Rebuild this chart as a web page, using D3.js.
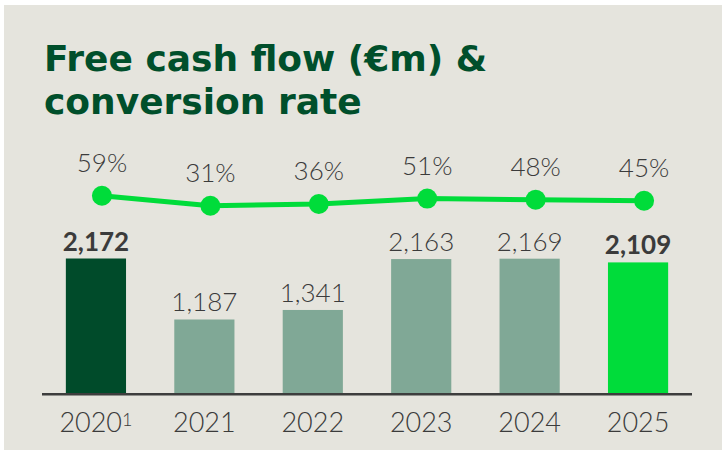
<!DOCTYPE html>
<html>
<head>
<meta charset="utf-8">
<script src="https://cdn.jsdelivr.net/npm/d3@7"></script>
<style type="text/css">
html, body {
	margin: 0;
	padding: 0;
	background: #ffffff;
}
#chart {
	width: 722px;
	height: 452px;
}
text {
	font-family: "Lato", "Open Sans", sans-serif;
	fill: #3b3b3b;
}
.title {
	font-family: "DejaVu Sans", sans-serif;
	font-weight: bold;
	font-size: 36px;
	fill: #004f2b;
}
.val {
	font-size: 26px;
	font-weight: 300;
}
.val.bold {
	font-weight: 700;
}
.pct {
	font-size: 26px;
	font-weight: 300;
}
.tick {
	font-size: 27px;
	font-weight: 300;
}
</style>
</head>
<body>
<div id="chart"></div>
<script type="text/javascript">
// data
var years = ["2020", "2021", "2022", "2023", "2024", "2025"];
var yearNotes = ["1", "", "", "", "", ""];
var fcf = [2172, 1187, 1341, 2163, 2169, 2109];
var fcfLabels = ["2,172", "1,187", "1,341", "2,163", "2,169", "2,109"];
var conversion = [59, 31, 36, 51, 48, 45];
var highlight = ["first", "", "", "", "", "last"];

var W = 722, H = 452;
var svg = d3.select("#chart").append("svg").attr("width", W).attr("height", H);

// panel
svg.append("rect").attr("x", 4).attr("y", 5).attr("width", W - 4).attr("height", H - 7)
	.style("fill", "#e5e4dd");

// title
var title = svg.append("text").attr("class", "title").attr("x", 44).attr("y", 71);
title.append("tspan").attr("x", 44).text("Free cash flow (\u20ACm) &");
title.append("tspan").attr("x", 44).attr("dy", 42.5).text("conversion rate");

// scales
var x = d3.scaleBand().domain(years).range([42, 692]).paddingInner(0.445).paddingOuter(0.22);
var y = d3.scaleLinear().domain([0, 2172]).range([393, 258.5]);
// conversion rate line sits in its own band above bars
var yPct = d3.scaleLinear().domain([0, 100]).range([216.8, 181.1]);
var dotShift = 6;

var barColor = function(i){
	if (highlight[i] == "first") return "#004b2a";
	if (highlight[i] == "last") return "#00dc3a";
	return "#80a896";
};

// bars
svg.append("g").selectAll("rect").data(fcf).enter().append("rect")
	.attr("x", function(d, i){ return x(years[i]); })
	.attr("y", function(d){ return y(d); })
	.attr("width", x.bandwidth())
	.attr("height", function(d){ return y(0) - y(d); })
	.style("fill", function(d, i){ return barColor(i); });

// bar values
svg.append("g").selectAll("text").data(fcf).enter().append("text")
	.attr("class", function(d, i){ return highlight[i] ? "val bold" : "val"; })
	.attr("x", function(d, i){ return x(years[i]) + x.bandwidth() / 2; })
	.attr("y", function(d){ return y(d) - 8; })
	.attr("text-anchor", "middle")
	.text(function(d, i){ return fcfLabels[i]; });

// axis line
svg.append("line").attr("x1", 42).attr("x2", 692).attr("y1", y(0) + 1.3).attr("y2", y(0) + 1.3)
	.style("stroke", "#3d3d3d").style("stroke-width", 2.6);

// x tick labels
var ticks = svg.append("g").selectAll("text").data(years).enter().append("text")
	.attr("class", "tick")
	.attr("x", function(d){ return x(d) + x.bandwidth() / 2; })
	.attr("y", 432)
	.attr("text-anchor", "middle");
ticks.append("tspan").text(function(d){ return d; });
ticks.append("tspan").attr("dy", -6).style("font-size", "18px")
	.text(function(d, i){ return yearNotes[i]; });

// conversion rate line
var px = function(i){ return x(years[i]) + x.bandwidth() / 2 + dotShift; };
var line = d3.line().x(function(d, i){ return px(i); }).y(function(d){ return yPct(d); });
svg.append("path").datum(conversion).attr("d", line)
	.style("fill", "none").style("stroke", "#00dc3a").style("stroke-width", 5)
	.style("stroke-linejoin", "round");
svg.append("g").selectAll("circle").data(conversion).enter().append("circle")
	.attr("cx", function(d, i){ return px(i); })
	.attr("cy", function(d){ return yPct(d); })
	.attr("r", 10)
	.style("fill", "#00dc3a");
svg.append("g").selectAll("text").data(conversion).enter().append("text")
	.attr("class", "pct")
	.attr("x", function(d, i){ return px(i); })
	.attr("y", function(d){ return yPct(d) - 24; })
	.attr("text-anchor", "middle")
	.text(function(d){ return d + "%"; });
</script>
</body>
</html>
